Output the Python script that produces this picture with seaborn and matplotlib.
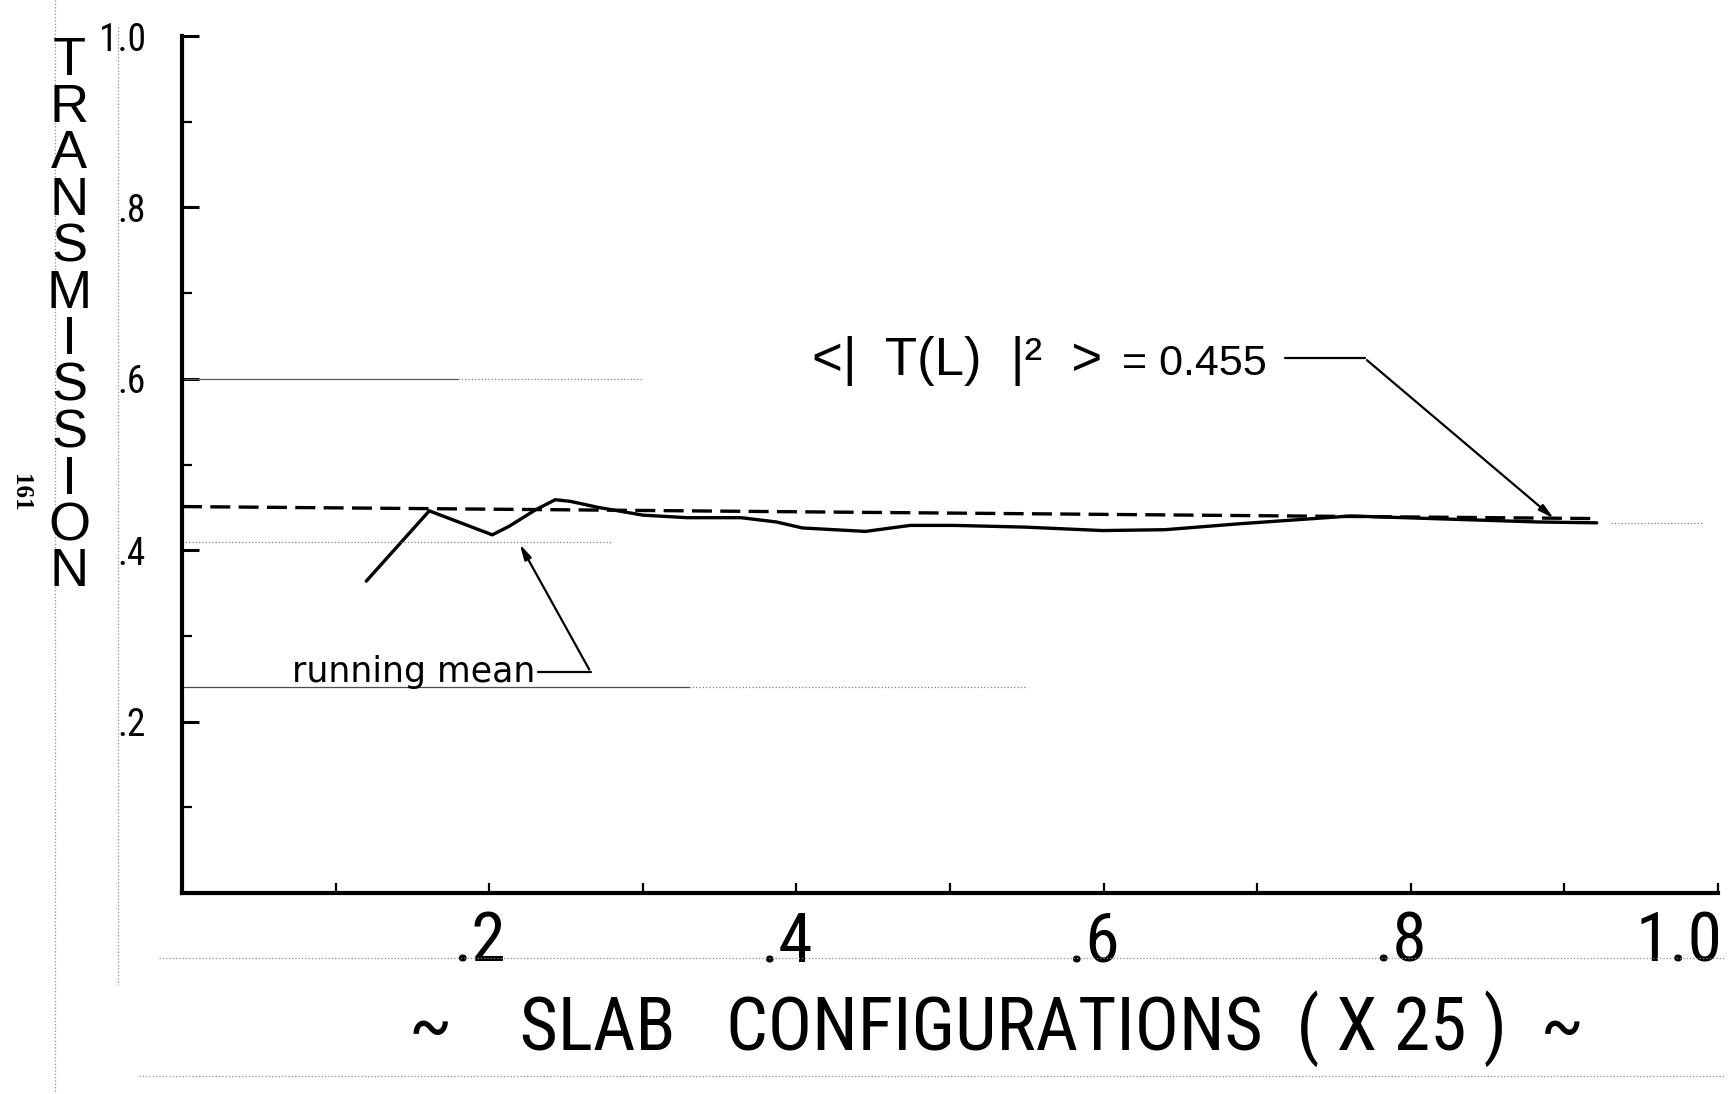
import numpy as np
import pandas as pd
import seaborn as sns
from matplotlib import pyplot as plt
from matplotlib import font_manager
from matplotlib.lines import Line2D
from matplotlib.transforms import ScaledTranslation

# running mean of |T(L)|^2 versus slab configurations
run_x = [0.120, 0.161, 0.202, 0.213, 0.230, 0.243, 0.253, 0.271, 0.300, 0.329, 0.364, 0.387,
         0.404, 0.445, 0.474, 0.503, 0.549, 0.599, 0.640, 0.689, 0.761, 0.813, 0.883, 0.921]
run_y = [0.364, 0.446, 0.418, 0.428, 0.447, 0.459, 0.457, 0.450, 0.441, 0.438, 0.438, 0.433,
         0.426, 0.422, 0.429, 0.429, 0.427, 0.423, 0.424, 0.431, 0.440, 0.437, 0.433, 0.432]

# the dashed mean line as drawn
mean_x = [0.0, 0.92]
mean_y = [0.451, 0.437]

x_major = [0.2, 0.4, 0.6, 0.8, 1.0]
x_minor = [0.1, 0.3, 0.5, 0.7, 0.9]
x_labels = [".2", ".4", ".6", ".8", "1.0"]
y_major = [0.2, 0.4, 0.6, 0.8, 1.0]
y_minor = [0.1, 0.3, 0.5, 0.7, 0.9]
y_labels = [".2", ".4", ".6", ".8", "1.0"]

sns.set_style("white")

# look for a narrow face, the lettering on the scan is tall and thin
entries = font_manager.fontManager.ttflist
names = {f.name for f in entries}
face, stretch = "Liberation Sans", "normal"
for cand in ["Liberation Sans Narrow", "Roboto Condensed", "Open Sans Condensed", "Noto Sans Condensed"]:
    if cand in names:
        face = cand
        break
else:
    for base in ["DejaVu Sans", "Noto Sans", "Open Sans", "Roboto"]:
        if any(f.name == base and f.stretch in ("condensed", "semi-condensed") for f in entries):
            face, stretch = base, "condensed"
            break
narrow = face != "Liberation Sans"

plt.rcParams["font.family"] = [face, "DejaVu Sans"]
plt.rcParams["font.stretch"] = stretch
for k in ["text.color", "axes.labelcolor", "xtick.color", "ytick.color"]:
    plt.rcParams[k] = "black"

fig = plt.figure(figsize=(17.33, 10.94), dpi=100)
ax = fig.add_axes([0.105, 0.1837, 0.8864, 0.7833])

run = pd.DataFrame({"x": run_x, "y": run_y})
sns.lineplot(data=run, x="x", y="y", sort=False, estimator=None, color="black", lw=2.4, ax=ax)
sns.lineplot(x=mean_x, y=mean_y, color="black", lw=2.4, ax=ax, linestyle=(0, (6, 2.5)))

ax.set_xlim(0, 1.0)
ax.set_ylim(0, 1.0)
ax.set_xticks(x_major)
ax.set_xticks(x_minor, minor=True)
ax.set_xticklabels(x_labels)
ax.set_yticks(y_major)
ax.set_yticks(y_minor, minor=True)
ax.set_yticklabels(y_labels)
ax.tick_params(axis="x", which="both", direction="in", length=7, width=1.6, pad=12,
               labelsize=50 if narrow else 40, bottom=True)
ax.tick_params(axis="y", which="major", direction="in", length=12, width=2.2, pad=26,
               labelsize=27 if narrow else 24, left=True)
ax.tick_params(axis="y", which="minor", direction="in", length=7, width=1.6, left=True)
# the hand lettered tick labels sit a little left of their ticks
shift = ScaledTranslation(-10 / 100, 0, fig.dpi_scale_trans)
xt = ax.get_xticklabels()
for t in xt:
    t.set_transform(t.get_transform() + shift)
xt[-1].set_horizontalalignment("right")
xt[-1].set_transform(xt[-1].get_transform() + ScaledTranslation(14 / 100, 0, fig.dpi_scale_trans))

for s in ["top", "right"]:
    ax.spines[s].set_visible(False)
for s in ["left", "bottom"]:
    ax.spines[s].set_linewidth(3)
    ax.spines[s].set_color("black")
ax.set_xlabel("")
ax.set_ylabel("")

# faint guide lines left on the scan
ax.plot([0, 0.18], [0.6, 0.6], color="0.35", lw=0.9)
ax.plot([0.18, 0.30], [0.6, 0.6], color="0.5", lw=0.9, ls=":")
ax.plot([0, 0.33], [0.24, 0.24], color="0.3", lw=0.9)
ax.plot([0.33, 0.55], [0.24, 0.24], color="0.5", lw=0.9, ls=":")
ax.plot([0, 0.28], [0.41, 0.41], color="0.5", lw=0.9, ls=":")
ax.plot([0.93, 0.99], [0.432, 0.432], color="0.5", lw=0.9, ls=":")

# running mean annotation
ax.text(0.230, 0.246, "running mean", ha="right", va="baseline", fontsize=25,
        family=["DejaVu Sans"], stretch="normal")
ax.plot([0.232, 0.266], [0.258, 0.258], color="black", lw=1.6)
ax.annotate("", xy=(0.219, 0.41), xytext=(0.266, 0.258),
            arrowprops=dict(arrowstyle="-|>,head_length=0.9,head_width=0.22", color="black", lw=1.6))

# mean value annotation
ax.text(0.410, 0.605, "<|  T(L)  |\u00b2  >", ha="left", va="baseline", fontsize=38,
        family=["Liberation Sans"], stretch="normal")
ax.text(0.612, 0.605, "= 0.455", ha="left", va="baseline", fontsize=31,
        family=["Liberation Sans"], stretch="normal")
ax.plot([0.718, 0.770], [0.624, 0.624], color="black", lw=1.6)
ax.annotate("", xy=(0.8945, 0.435), xytext=(0.770, 0.624),
            arrowprops=dict(arrowstyle="-|>,head_length=0.9,head_width=0.22", color="black", lw=1.6))

# axis titles, hand lettered on the original
fig.text(0.040, 0.967, "\n".join("TRANSMISSION"), ha="center", va="top",
         fontsize=39, linespacing=0.91, family=["Liberation Sans"], stretch="normal")
fig.text(0.575, 0.06, "~    SLAB   CONFIGURATIONS  ( X 25 )  ~", ha="center", va="center",
         fontsize=53 if narrow else 46)
fig.text(0.012, 0.55, "161", ha="center", va="center", rotation=-90, fontsize=18,
         fontweight="bold", family=["Liberation Serif", "DejaVu Serif"], stretch="normal")

# scan artefacts outside the frame
for (x0, y0, x1, y1) in [(0.092, 0.124, 0.995, 0.124), (0.08, 0.016, 0.995, 0.016),
                         (0.068, 0.975, 0.068, 0.10), (0.032, 1.0, 0.032, 0.0)]:
    fig.add_artist(Line2D([x0, x1], [y0, y1], transform=fig.transFigure, color="0.55",
                          lw=0.9, ls=":"))

fig.savefig("out.png", dpi=100)
